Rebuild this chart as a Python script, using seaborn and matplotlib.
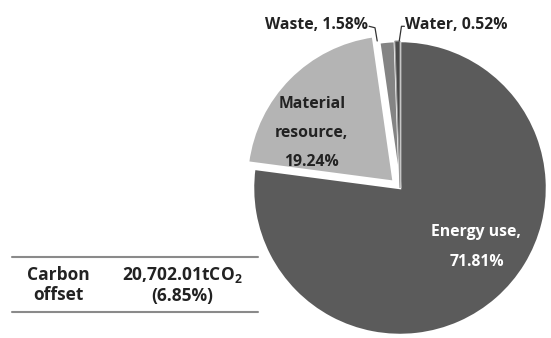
import matplotlib
matplotlib.use("Agg")
import matplotlib.pyplot as plt
import seaborn as sns

sns.set_style("white")
plt.rcParams['font.family'] = ['Open Sans', 'DejaVu Sans']

categories = ["Energy use", "Material resource", "Waste", "Water"]
shares = [71.81, 19.24, 1.58, 0.52]
colors = ["#5b5b5b", "#b4b4b4", "#848484", "#4a4a4a"]
explode = [0, 0.06, 0, 0]
offset_label = "Carbon\noffset"
offset_value = "20,702.01tCO$_\\mathregular{2}$\n(6.85%)"

W, H = 551, 338
fig = plt.figure(figsize=(W / 100, H / 100), dpi=100)
cx, cy, r = 400, 188, 147
ax = fig.add_axes([(cx - r) / W, (H - cy - r) / H, 2 * r / W, 2 * r / H])
wedges, _ = ax.pie(shares, colors=colors, startangle=90, counterclock=False,
                   explode=explode, radius=1,
                   wedgeprops=dict(edgecolor="white", linewidth=1.8))
wedges[3].set_edgecolor("#9a9a9a")
wedges[3].set_linewidth(0.8)
ax.set_xlim(-1, 1)
ax.set_ylim(-1, 1)
ax.set_aspect("equal")
ax.axis("off")

fs = 11.3
tk = dict(fontsize=fs, fontweight="bold", clip_on=False)
ax.text(-0.60, 0.375, "Material\nresource,\n19.24%", ha="center", va="center",
        color="#222222", linespacing=2.1, **tk)
ax.text(0.52, -0.40, "Energy use,\n71.81%", ha="center", va="center",
        color="white", linespacing=2.2, **tk)
ax.text(-0.22, 1.11, "Waste, 1.58%", ha="right", va="center", color="#222222", **tk)
ax.text(0.035, 1.11, "Water, 0.52%", ha="left", va="center", color="#222222", **tk)
ax.plot([-0.21, -0.17, -0.155], [1.10, 1.09, 1.0], color="#333333", lw=0.9, clip_on=False)
ax.plot([0.03, 0.01, -0.005], [1.10, 1.10, 1.0], color="#333333", lw=0.9, clip_on=False)

# table
fig.add_artist(plt.Line2D([12 / W, 258 / W], [1 - 257 / H, 1 - 257 / H], color="#8a8a8a", lw=1.5))
fig.add_artist(plt.Line2D([12 / W, 258 / W], [1 - 312 / H, 1 - 312 / H], color="#8a8a8a", lw=1.5))
fig.text(58 / W, 1 - 285 / H, offset_label, ha="center", va="center",
         fontsize=12.5, fontweight="bold", color="#222222", linespacing=1.2)
fig.text(182 / W, 1 - 285 / H, offset_value, ha="center", va="center",
         fontsize=12.5, fontweight="bold", color="#222222", linespacing=1.2)

fig.savefig("out.png", dpi=100)
